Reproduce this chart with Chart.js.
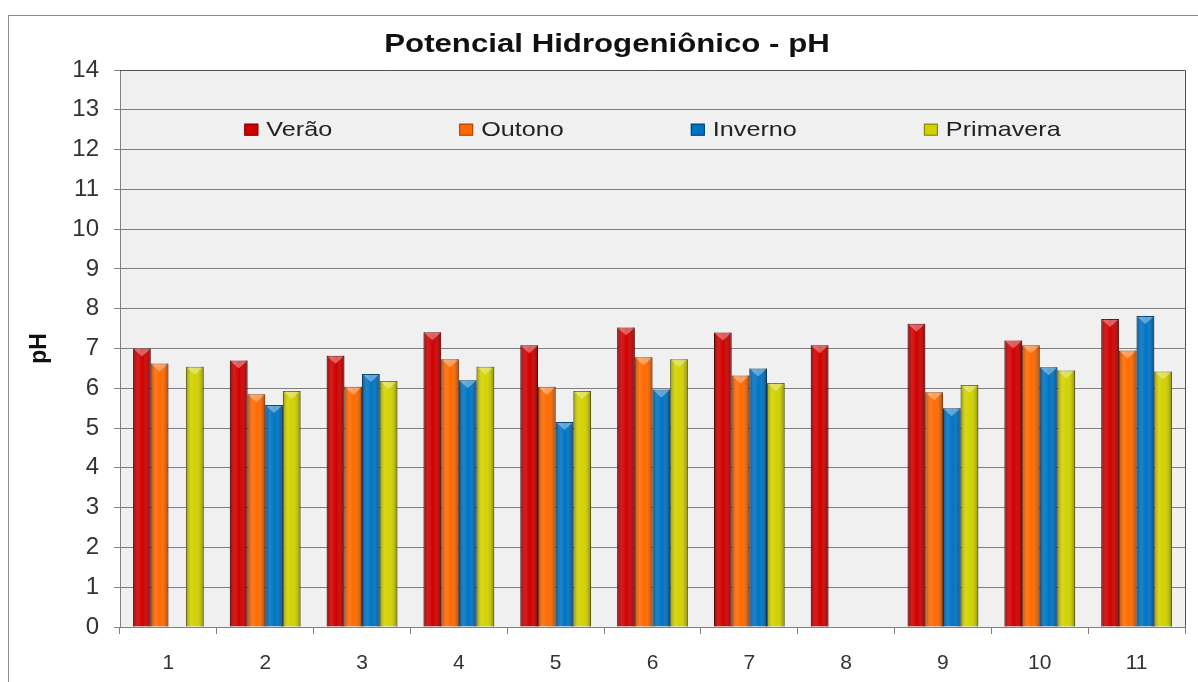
<!DOCTYPE html>
<html lang="pt-BR">
<head>
<meta charset="UTF-8">
<title>Potencial Hidrogeniônico - pH</title>
<style>
  html, body { margin: 0; padding: 0; background: #fff; }
  .wrap { width: 1198px; height: 682px; }
</style>
</head>
<body>
<div class="wrap"><canvas id="phChart" width="1198" height="682"></canvas></div>

<script src="https://cdn.jsdelivr.net/npm/chart.js"></script>
<script>
// pontos de coleta e pH medido em cada estação (null = sem coleta)
const pontos = ['1', '2', '3', '4', '5', '6', '7', '8', '9', '10', '11'];
const verao = [7.0, 6.7, 6.82, 7.41, 7.08, 7.53, 7.4, 7.08, 7.62, 7.2, 7.74];
const outono = [6.62, 5.85, 6.04, 6.73, 6.04, 6.78, 6.32, null, 5.9, 7.08, 6.95];
const inverno = [null, 5.58, 6.36, 6.2, 5.15, 5.97, 6.5, null, 5.5, 6.53, 7.82];
const primavera = [6.54, 5.93, 6.18, 6.54, 5.93, 6.73, 6.13, null, 6.08, 6.45, 6.42];
const escalaPH = [0, 1, 2, 3, 4, 5, 6, 7, 8, 9, 10, 11, 12, 13, 14];
const titulo = 'Potencial Hidrogeniônico - pH';

const FONTE = '"Liberation Sans", Arial, sans-serif';
const LARGURA_TEXTO = 1.2; // texto um pouco mais largo, como no Excel

// moldura externa, fundo cinza da área de plotagem e título
const fundo = {
    id: 'fundo',
    beforeDraw(chart) {
        const { ctx, chartArea: a } = chart;
        ctx.save();
        ctx.fillStyle = '#fff';
        ctx.fillRect(0, 0, chart.width, chart.height);
        ctx.strokeStyle = '#8c8c8c';
        ctx.lineWidth = 1;
        ctx.strokeRect(8.5, 15.5, chart.width + 10, chart.height + 10);
        ctx.fillStyle = '#f0f0f0';
        ctx.fillRect(a.left, a.top, a.right - a.left, a.bottom - a.top);

        ctx.translate(607, 52);
        ctx.scale(LARGURA_TEXTO, 1);
        ctx.font = 'bold 26px ' + FONTE;
        ctx.textAlign = 'center';
        ctx.textBaseline = 'alphabetic';
        ctx.fillStyle = '#111';
        ctx.fillText(titulo, 0, 0);
        ctx.restore();
    },
    afterDraw(chart) {
        const { ctx, chartArea: a } = chart;
        ctx.save();
        ctx.strokeStyle = '#505050';
        ctx.lineWidth = 1;
        ctx.beginPath();
        ctx.moveTo(a.left, Math.round(a.top) + 0.5);
        ctx.lineTo(Math.round(a.right) + 0.5, Math.round(a.top) + 0.5);
        ctx.lineTo(Math.round(a.right) + 0.5, a.bottom);
        ctx.stroke();
        ctx.restore();
    }
};

// efeito de relevo nas barras
const relevo = {
    id: 'relevo',
    afterDatasetsDraw(chart) {
        const ctx = chart.ctx;
        ctx.save();
        chart.data.datasets.forEach((ds, i) => {
            chart.getDatasetMeta(i).data.forEach((bar, j) => {
                if (ds.data[j] == null) return;
                const { x, y, base, width } = bar.getProps(['x', 'y', 'base', 'width'], true);
                const left = x - width / 2;
                const g = ctx.createLinearGradient(left, 0, left + width, 0);
                g.addColorStop(0, 'rgba(0,0,0,0.30)');
                g.addColorStop(0.3, 'rgba(255,255,255,0.10)');
                g.addColorStop(0.55, 'rgba(255,255,255,0)');
                g.addColorStop(1, 'rgba(0,0,0,0.35)');
                ctx.fillStyle = g;
                ctx.fillRect(left, y, width, base - y);
                ctx.beginPath();
                ctx.moveTo(left + 1, y + 1);
                ctx.lineTo(left + width - 1, y + 1);
                ctx.lineTo(x, y + 8);
                ctx.closePath();
                ctx.fillStyle = 'rgba(255,255,255,0.35)';
                ctx.fill();
            });
        });
        ctx.restore();
    }
};

// legenda dentro da área do gráfico
const legenda = {
    id: 'legenda',
    afterDraw(chart) {
        const { ctx, chartArea: a, scales } = chart;
        const y = scales.y.getPixelForValue(12.5);
        const box = 14, gap = 8, spacing = 127;
        ctx.save();
        ctx.font = '21px ' + FONTE;
        ctx.textBaseline = 'middle';
        const itens = chart.data.datasets.map(ds => ({
            label: ds.label,
            cor: ds.backgroundColor,
            borda: ds.borderColor,
            tw: ctx.measureText(ds.label).width * LARGURA_TEXTO
        }));
        itens.forEach(it => { it.w = box + gap + it.tw; });
        const total = itens.reduce((s, it) => s + it.w, 0) + spacing * (itens.length - 1);
        let x = (a.left + a.right) / 2 - total / 2;
        itens.forEach(it => {
            ctx.fillStyle = it.cor;
            ctx.fillRect(x, y - 6, box, 12);
            ctx.strokeStyle = it.borda;
            ctx.strokeRect(x + 0.5, y - 5.5, box - 1, 11);
            ctx.save();
            ctx.translate(x + box + gap, y + 1);
            ctx.scale(LARGURA_TEXTO, 1);
            ctx.fillStyle = '#222';
            ctx.fillText(it.label, 0, 0);
            ctx.restore();
            x += it.w + spacing;
        });
        ctx.restore();
    }
};

new Chart(document.getElementById('phChart'), {
    type: 'bar',
    data: {
        labels: pontos,
        datasets: [
            { label: 'Verão', data: verao, backgroundColor: '#d00000', borderColor: '#7a0000' },
            { label: 'Outono', data: outono, backgroundColor: '#ff6a00', borderColor: '#a84000' },
            { label: 'Inverno', data: inverno, backgroundColor: '#0074c4', borderColor: '#003f70' },
            { label: 'Primavera', data: primavera, backgroundColor: '#d2d200', borderColor: '#7c7c00' }
        ]
    },
    options: {
        responsive: false,
        animation: false,
        devicePixelRatio: 1,
        layout: { padding: { left: 20, right: 13, top: 70, bottom: 0 } },
        datasets: {
            bar: { categoryPercentage: 0.73, barPercentage: 1.0, borderWidth: 1 }
        },
        plugins: {
            legend: { display: false },
            tooltip: { enabled: false },
            title: { display: false }
        },
        scales: {
            x: {
                grid: { display: true, drawOnChartArea: false, drawTicks: true, tickLength: 7, color: '#808080' },
                border: { color: '#808080' },
                ticks: { color: '#333', font: { family: FONTE, size: 21 }, padding: 17 },
                afterFit(scale) { scale.height = 55; }
            },
            y: {
                min: 0,
                max: 14,
                afterBuildTicks(scale) { scale.ticks = escalaPH.map(v => ({ value: v })); },
                grid: { color: '#808080', tickLength: 6, drawTicks: true },
                border: { color: '#808080' },
                ticks: { color: '#333', font: { family: FONTE, size: 24 }, padding: 15 },
                title: {
                    display: true,
                    text: 'pH',
                    color: '#111',
                    font: { family: FONTE, size: 23, weight: 'bold' },
                    padding: { top: 6, bottom: 0 }
                },
                afterFit(scale) { scale.width = 100; }
            }
        }
    },
    plugins: [fundo, relevo, legenda]
});
</script>
</body>
</html>
